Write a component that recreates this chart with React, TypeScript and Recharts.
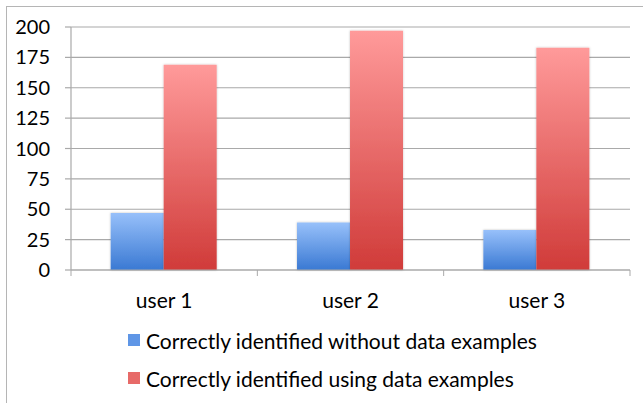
import React from 'react';
import {
  BarChart,
  Bar,
  XAxis,
  YAxis,
  CartesianGrid,
  Legend,
} from 'recharts';

const users = ['user 1', 'user 2', 'user 3'];
const withoutExamples = [47, 39, 33];
const usingExamples = [169, 197, 183];
const yTicks = [0, 25, 50, 75, 100, 125, 150, 175, 200];

const seriesNames = {
  without: 'Correctly identified without data examples',
  using: 'Correctly identified using data examples',
};

const data = users.map((user, i) => ({
  user,
  without: withoutExamples[i],
  using: usingExamples[i],
}));

const W = 643;
const H = 403;
const MARGIN = { top: 27, right: 13, left: 0, bottom: 93 };
const Y_AXIS_W = 71;
const PLOT_W = W - MARGIN.right - MARGIN.left - Y_AXIS_W;
const BAND = PLOT_W / users.length;
const FONT = 'Lato, "Open Sans", sans-serif';
const GRID = '#a9a9a9';

const XTick = (props: any) => {
  const { x, y, payload, index } = props;
  const axisY = y - 8;
  return (
    <g>
      <line x1={x - BAND / 2} y1={axisY} x2={x - BAND / 2} y2={axisY + 6} stroke={GRID} />
      {index === users.length - 1 && (
        <line x1={x + BAND / 2} y1={axisY} x2={x + BAND / 2} y2={axisY + 6} stroke={GRID} />
      )}
      <text x={x} y={y} dy={29.5} textAnchor="middle" fill="#000" fontSize={21} fontFamily={FONT}>
        {payload.value}
      </text>
    </g>
  );
};

const LegendBox = () => (
  <div style={{ fontFamily: FONT, fontSize: 21, color: '#000' }}>
    {[
      { key: 'without', color: '#5f96e6' },
      { key: 'using', color: '#e76a68' },
    ].map((item) => (
      <div key={item.key} style={{ display: 'flex', alignItems: 'center', height: 38 }}>
        <span
          style={{
            display: 'inline-block',
            width: 12,
            height: 12,
            background: item.color,
            marginRight: 6,
          }}
        />
        <span>{seriesNames[item.key as 'without' | 'using']}</span>
      </div>
    ))}
  </div>
);

export default function App() {
  return (
    <div style={{ position: 'absolute', left: 0, top: 0, width: W, height: H, background: '#fff' }}>
      <div
        style={{
          position: 'absolute',
          left: 6,
          top: 6,
          right: 0,
          bottom: 0,
          borderTop: '1.5px solid #b5b5b5',
          borderLeft: '1.5px solid #b5b5b5',
        }}
      />
      <BarChart
        width={W}
        height={H}
        data={data}
        margin={MARGIN}
        barCategoryGap="21.3%"
        barGap={0}
        style={{ position: 'absolute', left: 0, top: 0 }}
      >
        <defs>
          <linearGradient id="blueFill" x1="0" y1="0" x2="0" y2="1">
            <stop offset="0%" stopColor="#97c0fa" />
            <stop offset="100%" stopColor="#3a79d3" />
          </linearGradient>
          <linearGradient id="redFill" x1="0" y1="0" x2="0" y2="1">
            <stop offset="0%" stopColor="#ff9a9a" />
            <stop offset="100%" stopColor="#d03b39" />
          </linearGradient>
          <filter id="barShadow" x="-10%" y="-10%" width="120%" height="120%">
            <feDropShadow dx="0" dy="0" stdDeviation="1" floodColor="#000" floodOpacity="0.25" />
          </filter>
        </defs>
        <CartesianGrid vertical={false} stroke={GRID} strokeWidth={1.2} />
        <XAxis
          dataKey="user"
          height={40}
          axisLine={{ stroke: GRID, strokeWidth: 1.2 }}
          tickLine={false}
          tick={<XTick />}
          interval={0}
        />
        <YAxis
          width={Y_AXIS_W}
          domain={[0, 200]}
          ticks={yTicks}
          interval={0}
          tickSize={6}
          tickMargin={15}
          axisLine={{ stroke: GRID, strokeWidth: 1.2 }}
          tickLine={{ stroke: GRID, strokeWidth: 1.2 }}
          tick={{ fill: '#000', fontSize: 20, fontFamily: FONT }}
        />
        <Legend
          layout="vertical"
          align="center"
          verticalAlign="middle"
          content={<LegendBox />}
          wrapperStyle={{ left: 128, top: 321, width: 480 }}
        />
        <Bar
          dataKey="without"
          name={seriesNames.without}
          fill="url(#blueFill)"
          filter="url(#barShadow)"
          isAnimationActive={false}
        />
        <Bar
          dataKey="using"
          name={seriesNames.using}
          fill="url(#redFill)"
          filter="url(#barShadow)"
          isAnimationActive={false}
        />
      </BarChart>
    </div>
  );
}
